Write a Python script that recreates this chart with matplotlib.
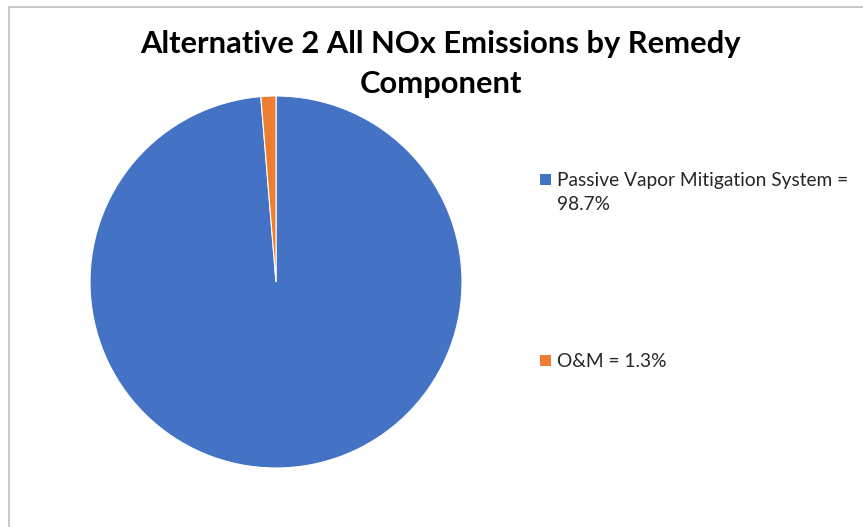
import matplotlib
matplotlib.use("Agg")
import matplotlib.pyplot as plt
from matplotlib.patches import Rectangle

title_lines = ["Alternative 2 All NOx Emissions by Remedy", "Component"]
components = ["Passive Vapor Mitigation System", "O&M"]
shares = [98.7, 1.3]
colors = ["#4472C4", "#ED7D31"]

W, H, DPI = 863, 527, 100
fig = plt.figure(figsize=(W / DPI, H / DPI), dpi=DPI)
fig.patch.set_facecolor("white")

def fx(px):
    return px / W

def fy(py):
    return 1 - py / H

# chart frame
fig.add_artist(Rectangle((fx(8.5), fy(600)), fx(900), fy(6.5) - fy(600),
                         transform=fig.transFigure, fill=False,
                         edgecolor="#BFBFBF", linewidth=1.2))

# pie: centre (276, 282) px, radius 186 px
r = 186
ax = fig.add_axes([fx(276 - r), fy(282 + r), fx(2 * r), (2 * r) / H])
ax.pie(shares, colors=colors, startangle=90, counterclock=False,
       wedgeprops=dict(edgecolor="white", linewidth=0.8))
ax.set_xlim(-1, 1)
ax.set_ylim(-1, 1)
ax.set_aspect("equal")
ax.axis("off")

renderer = fig.canvas.get_renderer()

def fitted_size(s, target_w, family, weight="normal"):
    t = fig.text(0, 0, s, fontsize=20, family=family, weight=weight)
    w = t.get_window_extent(renderer=renderer).width
    t.remove()
    return 20 * target_w / w

# title
title_size = fitted_size(title_lines[0], 601, "Lato", "bold")
fig.text(fx(440.5), fy(53), title_lines[0], fontsize=title_size, family="Lato",
         weight="bold", ha="center", va="baseline", color="black")
fig.text(fx(440.5), fy(93), title_lines[1], fontsize=title_size, family="Lato",
         weight="bold", ha="center", va="baseline", color="black")

# legend entries
labels = [f"{c} = {v}%" for c, v in zip(components, shares)]
first, second = labels[0].split(" = ")
leg_size = fitted_size(first + " =", 292, "Lato")
entry_y = [174, 355]
for i, (lab, col) in enumerate(zip(labels, colors)):
    y = entry_y[i]
    fig.add_artist(Rectangle((fx(540), fy(y + 11)), fx(11), 11 / H,
                             transform=fig.transFigure, facecolor=col,
                             edgecolor="none"))
    lines = [first + " =", second] if i == 0 else [lab]
    for k, line in enumerate(lines):
        fig.text(fx(557), fy(y + 12 + 24.5 * k), line, fontsize=leg_size,
                 family="Lato", ha="left", va="baseline", color="#262626")

fig.savefig("out.png", dpi=DPI, facecolor="white")
